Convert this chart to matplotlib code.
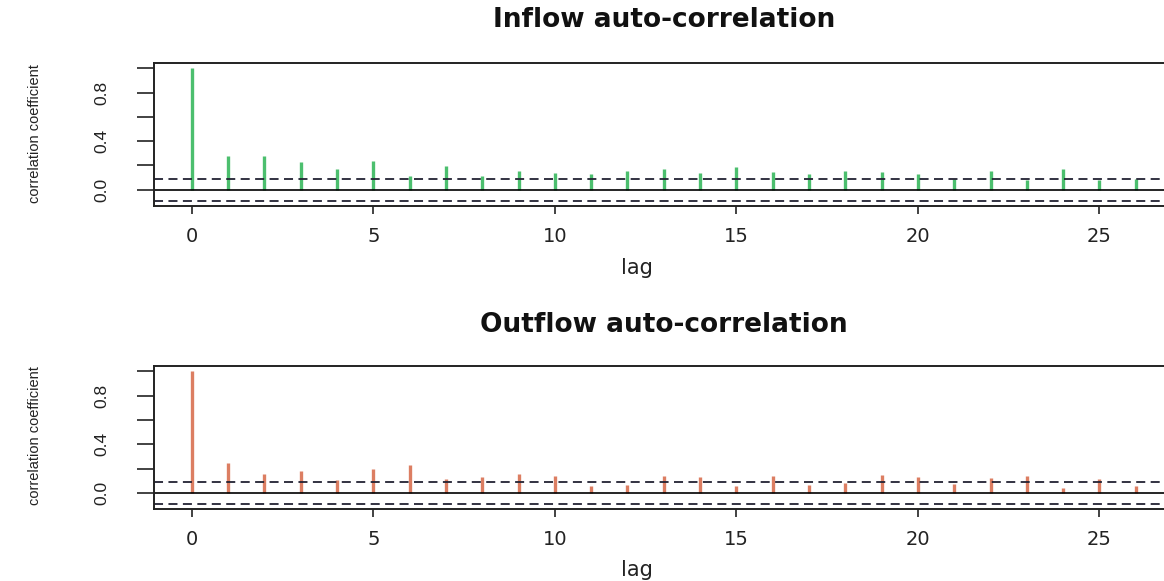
import numpy as np
import matplotlib
matplotlib.use("Agg")
import matplotlib.pyplot as plt

# ACF values (lags 0..26)
lags = list(range(27))
inflow_acf = [1.0, 0.28, 0.28, 0.23, 0.175, 0.24, 0.117, 0.197, 0.117, 0.153,
              0.137, 0.126, 0.158, 0.175, 0.142, 0.189, 0.150, 0.126, 0.153,
              0.145, 0.128, 0.087, 0.153, 0.079, 0.169, 0.079, 0.085]
outflow_acf = [1.0, 0.245, 0.153, 0.183, 0.109, 0.199, 0.229, 0.112, 0.128,
               0.158, 0.142, 0.054, 0.068, 0.142, 0.128, 0.057, 0.136, 0.068,
               0.082, 0.150, 0.134, 0.071, 0.123, 0.144, 0.041, 0.114, 0.054]
conf_bound = 0.09
titles = ["Inflow auto-correlation", "Outflow auto-correlation"]
y_ticks = [0.0, 0.2, 0.4, 0.6, 0.8, 1.0]
y_ticklabels = ["0.0", "", "0.4", "", "0.8", ""]
x_ticks = [0, 5, 10, 15, 20, 25]

W, H = 1164, 581
fig = plt.figure(figsize=(W / 100, H / 100), dpi=100)


def draw_panel(top_px, bottom_px, values, color, title, title_y, lag_y, ylab_y):
    left_px, right_px = 154, 1173.5
    ax = fig.add_axes([left_px / W, 1 - bottom_px / H,
                       (right_px - left_px) / W, (bottom_px - top_px) / H])
    ax.vlines(lags, 0, values, color=color, lw=2.4)
    ax.axhline(0, color="black", lw=1.2)
    for b in (conf_bound, -conf_bound):
        ax.axhline(b, color="#222233", lw=1.3, ls=(0, (5, 3)))
    ax.set_xlim(-1.04, 27.04)
    ax.set_ylim(-0.1336, 1.0436)
    ax.set_xticks(x_ticks)
    ax.set_yticks(y_ticks)
    ax.set_yticklabels(y_ticklabels, rotation=90, va="center",
                       family="Liberation Sans", fontsize=12.5)
    ax.tick_params(axis="y", length=12, width=1.2, pad=20, colors="#222222")
    ax.tick_params(axis="x", length=6, width=1.2, pad=9, labelsize=14,
                   colors="#222222")
    for s in ax.spines.values():
        s.set_linewidth(1.4)
        s.set_color("#222222")
    fig.text(664 / W, 1 - title_y / H, title, ha="center", va="center",
             fontsize=19, fontweight="bold", color="#111111")
    fig.text(637 / W, 1 - lag_y / H, "lag", ha="center", va="center",
             fontsize=15, color="#222222")
    fig.text(35 / W, 1 - ylab_y / H, "correlation coefficient", rotation=90,
             ha="center", va="center", family="Liberation Sans",
             fontsize=10.5, color="#222222")
    return ax


draw_panel(63, 206, inflow_acf, "#4cbf6e", titles[0], 20, 268, 134)
draw_panel(366, 509.3, outflow_acf, "#dc7e62", titles[1], 325, 570, 436)

fig.savefig("out.png", dpi=100)
